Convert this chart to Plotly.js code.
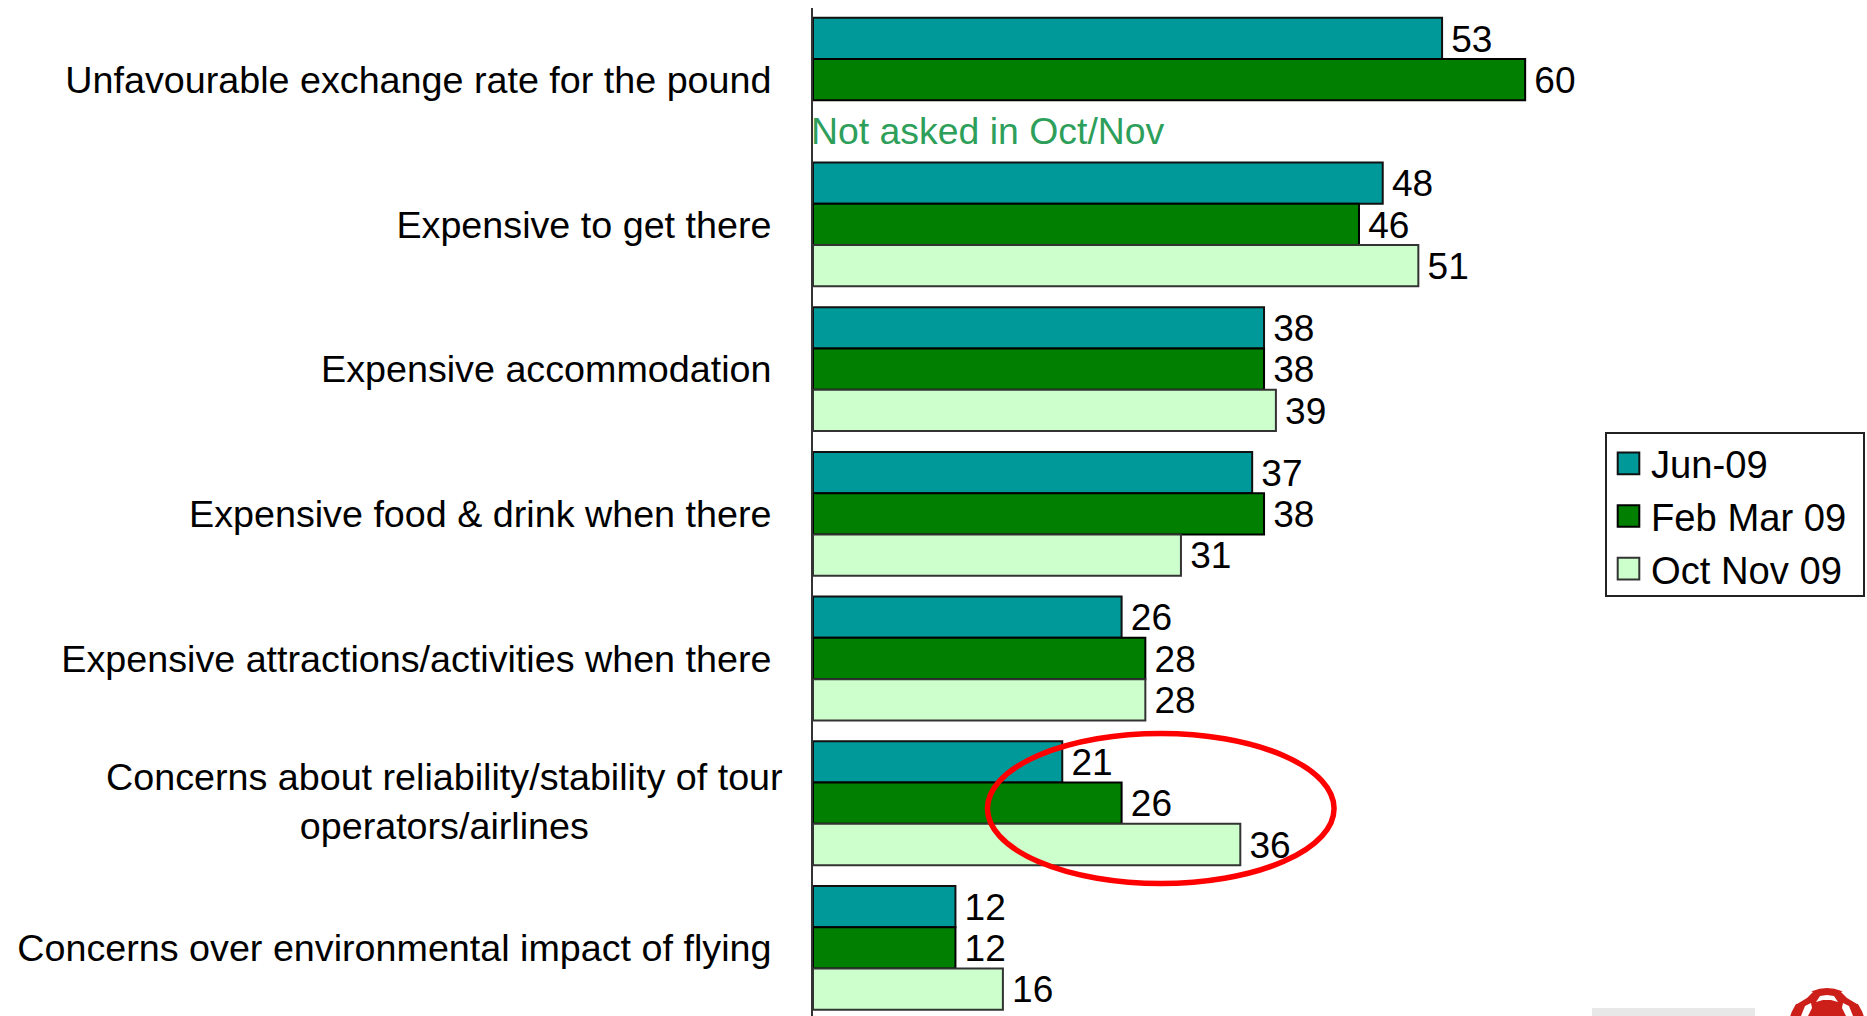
<!DOCTYPE html>
<html><head><meta charset="utf-8">
<script src="https://cdn.plot.ly/plotly-3.0.1.min.js"></script>
<style>html,body{margin:0;padding:0;background:#fff;overflow:hidden}</style>
</head><body><div id="chart" style="width:1867px;height:1016px"></div>
<script>
const categories = [
  "Unfavourable exchange rate for the pound",
  "Expensive to get there",
  "Expensive accommodation",
  "Expensive food & drink when there",
  "Expensive attractions/activities when there",
  "Concerns about reliability/stability of tour operators/airlines",
  "Concerns over environmental impact of flying"
];
const tickLabels = [
  "Unfavourable exchange rate for the pound",
  "Expensive to get there",
  "Expensive accommodation",
  "Expensive food & drink when there",
  "Expensive attractions/activities when there",
  "",
  "Concerns over environmental impact of flying"
];
const wrappedLabel = "Concerns about reliability/stability of tour<br>operators/airlines";
const jun09 = [53, 48, 38, 37, 26, 21, 12];
const febMar09 = [60, 46, 38, 38, 28, 26, 12];
const octNov09 = [null, 51, 39, 31, 28, 36, 16];
const note = "Not asked in Oct/Nov";
const FONT = "Liberation Sans, Arial, sans-serif";
const LABEL_SIZE = 37.7;

// page pixel -> paper fraction, for the ellipse and the cropped logo decoration
const PL = 813, PW = 1054, PT = 8, PH = 1008;
const px = x => ((x - PL) / PW).toFixed(5);
const py = y => (1 - (y - PT) / PH).toFixed(5);
function logoPath(points) {
  return "M" + points.map(p => px(p[0]) + "," + py(p[1])).join("L") + "Z";
}
function logoShape(points, color) {
  return {type: "path", xref: "paper", yref: "paper", path: logoPath(points),
          fillcolor: color, line: {width: 0}, layer: "above"};
}

function series(name, values, color, lineColor) {
  return {
    type: "bar", orientation: "h", name: name, x: values, y: categories,
    marker: {color: color, line: {color: lineColor, width: 2}},
    text: values.map(v => v === null ? "" : "\u2006" + v),
    textposition: "outside", cliponaxis: false,
    textfont: {family: FONT, size: 39.5, color: "#000"},
    hoverinfo: "x+name"
  };
}
const data = [
  series("Jun-09", jun09, "#009999", "#111"),
  series("Feb Mar 09", febMar09, "#007f00", "#000"),
  series("Oct Nov 09", octNov09, "#ccffcc", "#333")
];
const layout = {
  width: 1867, height: 1016,
  margin: {l: PL, r: 0, t: PT, b: 0, pad: 0, autoexpand: false},
  paper_bgcolor: "#fff", plot_bgcolor: "rgba(0,0,0,0)",
  barmode: "group", bargap: 0.144, bargroupgap: 0,
  font: {family: FONT, color: "#000"},
  xaxis: {range: [0, 88.8], visible: false, fixedrange: true},
  yaxis: {
    type: "category", categoryorder: "array", categoryarray: categories,
    range: [6.4705, -0.4955],
    tickmode: "array", tickvals: categories, ticktext: tickLabels,
    ticks: "", ticklabelstandoff: 32,
    tickfont: {family: FONT, size: LABEL_SIZE, color: "#000"},
    showline: true, linecolor: "#333", linewidth: 2, showgrid: false, zeroline: false
  },
  legend: {
    xref: "container", yref: "container", x: 1605/1867, y: 1 - 430/1016,
    xanchor: "left", yanchor: "top",
    bordercolor: "#222", borderwidth: 2, bgcolor: "#fff",
    font: {family: FONT, size: 38.2, color: "#000"},
    traceorder: "normal", itemwidth: 34, tracegroupgap: 0,
    entrywidth: 222, entrywidthmode: "pixels"
  },
  annotations: [
    {xref: "paper", yref: "y", x: 0, y: categories[5], yshift: 2, text: wrappedLabel, showarrow: false,
     xanchor: "right", xshift: -28, align: "center", font: {family: FONT, size: LABEL_SIZE, color: "#000"}},
    {xref: "x", yref: "y", x: 0, y: categories[0], yshift: -51, text: note, showarrow: false,
     xanchor: "left", xshift: -4, font: {family: FONT, size: 37.4, color: "#2e9f5b"}}
  ],
  shapes: [
    {type: "circle", xref: "x", yref: "paper", x0: 14.7, x1: 43.9,
     y0: 1 - (883.5 - PT)/PH, y1: 1 - (733.5 - PT)/PH,
     line: {color: "#ff0000", width: 5.5}, fillcolor: "rgba(0,0,0,0)", layer: "above"},
    {type: "rect", xref: "paper", yref: "paper", x0: px(1592), x1: px(1755),
     y0: py(1016), y1: py(1008), line: {width: 0}, fillcolor: "#e8e8e8", layer: "above"},
    {type: "circle", xref: "paper", yref: "paper", x0: px(1789), x1: px(1865),
     y0: py(1064), y1: py(988), line: {width: 0}, fillcolor: "#cc1f1a", layer: "above"},
    logoShape([[1816,1002],[1820,996],[1827,995],[1834,996],[1838,1002],[1831,1000],[1823,1000]], "#fff"),
    logoShape([[1801,1016],[1805,1006],[1811,1003],[1812,1008],[1808,1016]], "#fff"),
    logoShape([[1853,1016],[1849,1006],[1843,1003],[1842,1008],[1846,1016]], "#fff"),
    logoShape([[1789,1000],[1806,989],[1813,992],[1807,998],[1797,1004]], "#fff"),
    logoShape([[1865,1000],[1848,989],[1841,992],[1847,998],[1857,1004]], "#fff")
  ]
};
Plotly.newPlot("chart", data, layout, {displayModeBar: false}).then(() => {
  document.querySelectorAll(".legendpoints path").forEach(p => {
    p.setAttribute("transform", "translate(21.5,0) scale(1.8)");
    p.style.vectorEffect = "non-scaling-stroke";
  });
  const bg = document.querySelector(".legend rect.bg");
  if (bg) {
    bg.setAttribute("y", 3);
    bg.setAttribute("height", 163);
    bg.setAttribute("width", 258);
  }
});
</script></body></html>
